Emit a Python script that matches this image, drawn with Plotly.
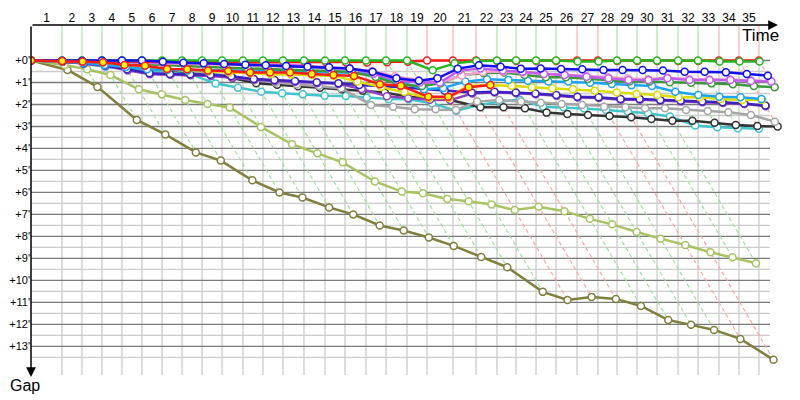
import plotly.graph_objects as go

# ---------------- data (minutes) ----------------
lap_numbers = list(range(1, 36))
# leader's cumulative race time at the end of each lap (lap 0..35), minutes
leader_time = [0.00, 2.40, 3.95, 5.50, 7.05, 8.60, 10.16, 11.71, 13.26, 14.81, 16.43,
               17.98, 19.53, 21.16, 22.79, 24.34, 25.97, 27.52, 29.15, 30.70, 32.71,
               34.50, 36.12, 37.60, 39.15, 40.70, 42.33, 43.95, 45.43, 46.98, 48.53,
               50.16, 51.71, 53.33, 54.88, 56.43]

# gap to leader (minutes) at the end of each lap, starting with lap 0
gap_green = [0]*19 + [0.44, 0.13, 0.02, 0, 0, 0, 0, 0.05, 0.05, 0, 0, 0, 0, 0, 0.05, 0.05, 0.05]
gap_red = [0, 0.03, 0.04, 0.05, 0.05, 0.06, 0.06, 0.07, 0.07, 0.08, 0.08, 0.08, 0.08, 0.08,
           0.09, 0.09, 0.09, 0.08, 0.06, 0, 0, 0, 0.02, 0.02, 0.02, 0.02, 0, 0, 0.02, 0.02,
           0.02, 0.02, 0.02, 0, 0, 0]
gap_red_yellow = [0, 0.02, 0.05, 0.08, 0.2, 0.24, 0.39, 0.4, 0.46, 0.48, 0.55, 0.55, 0.55,
                  0.61, 0.66, 0.7, 1.08, 1.15, 1.65, 1.65, 1.22, 1.11]
gap_blue = [0, 0.01, 0.01, 0, 0, 0, 0.06, 0.1, 0.13, 0.16, 0.19, 0.22, 0.25, 0.28, 0.31,
            0.36, 0.51, 0.81, 0.92, 0.81, 0.37, 0.22, 0.28, 0.37, 0.36, 0.39, 0.40, 0.43,
            0.43, 0.43, 0.46, 0.51, 0.51, 0.54, 0.61, 0.69]
gap_magenta = [0, 0.02, 0.03, 0.04, 0.05, 0.07, 0.09, 0.11, 0.13, 0.14, 0.16, 0.2, 0.2,
               0.24, 0.33, 0.35, 0.6, 0.9, 1.0, 1.0, 0.46, 0.36, 0.46, 0.51, 0.61, 0.66,
               0.74, 0.81, 0.89, 0.89, 0.81, 0.89, 0.89, 0.89, 0.93, 0.96]
gap_pink = [0, 0.02, 0.04, 0.06, 0.08, 0.1, 0.12, 0.14, 0.16, 0.18, 0.2, 0.24, 0.27, 0.3,
            0.33, 0.38, 0.48, 0.72, 0.9, 1.0, 0.68, 0.52, 0.5, 0.55, 0.58, 0.62, 0.68,
            0.75, 0.82, 0.85, 0.78, 0.84, 0.85, 0.86, 0.9, 0.93]
gap_dark_green = [0, 0.02, 0.05, 0.08, 0.12, 0.15, 0.2, 0.25, 0.3, 0.33, 0.36, 0.4, 0.42,
                  0.45, 0.48, 0.52, 0.75, 1.1, 1.16, 1.04, 0.66, 0.58, 0.55, 0.66, 0.76,
                  0.76, 0.84, 0.89, 0.96, 0.96, 0.99, 1.01, 1.04, 1.08, 1.16, 1.22]
gap_sky = [0, 0.03, 0.1, 0.2, 0.3, 0.4, 0.42, 0.44, 0.45, 0.46, 0.47, 0.48, 0.5, 0.52,
           0.54, 0.56, 0.65, 0.95, 1.31, 1.25, 0.96, 0.85, 0.89, 0.92, 0.96, 0.96, 1.01,
           1.07, 1.12, 1.16, 1.42, 1.57, 1.65, 1.67, 1.75]
gap_yellow = [0, 0.03, 0.08, 0.15, 0.25, 0.32, 0.4, 0.45, 0.5, 0.55, 0.58, 0.62, 0.64,
              0.66, 0.7, 0.96, 1.2, 1.42, 1.7, 1.7, 1.15, 1.12, 1.15, 1.22, 1.26, 1.31,
              1.37, 1.46, 1.52, 1.57, 1.67, 1.67, 1.75, 1.8, 1.8]
gap_indigo = [0, 0.05, 0.12, 0.22, 0.4, 0.58, 0.61, 0.63, 0.65, 0.72, 0.84, 0.89, 0.93,
              0.99, 1.04, 1.11, 1.16, 1.22, 1.3, 1.37, 1.45, 1.42, 1.46, 1.5, 1.57, 1.65,
              1.67, 1.75, 1.75, 1.8, 1.83, 1.87, 1.9, 1.95, 2.05]
gap_purple = [0, 0.05, 0.14, 0.25, 0.45, 0.62, 0.65, 0.67, 0.7, 0.78, 0.88, 0.93, 0.97,
              1.03, 1.06, 1.3, 1.62, 1.72, 1.78, 1.8, 1.5, 1.45, 1.49, 1.53, 1.6, 1.68,
              1.7, 1.78, 1.78, 1.83, 1.86, 1.9, 1.93, 1.98, 2.08]
gap_gray = [0, 0.04, 0.1, 0.16, 0.24, 0.32, 0.4, 0.48, 0.58, 0.72, 0.9, 1.0, 1.08, 1.15,
            1.26, 2.02, 2.1, 2.22, 2.22, 2.25, 1.87, 1.8, 1.87, 1.92, 1.98, 2.02, 2.1,
            2.13, 2.17, 2.17, 2.25, 2.3, 2.35, 2.48, 2.78]
gap_black = [0, 0.05, 0.1, 0.16, 0.25, 0.35, 0.42, 0.5, 0.62, 0.8, 1.03, 1.1, 1.17, 1.24,
             1.31, 1.37, 1.45, 1.65, 1.72, 1.8, 2.13, 2.13, 2.17, 2.37, 2.43, 2.48, 2.52,
             2.58, 2.66, 2.74, 2.74, 2.83, 2.93, 2.98, 3.0]
gap_cyan = [0, 0.05, 0.15, 0.28, 0.36, 0.45, 0.52, 0.61, 1.05, 1.24, 1.42, 1.49, 1.54,
            1.6, 1.61, 1.69, 1.75, 1.76, 1.95, 2.28, 2.02, 1.87, 1.78, 2.1, 2.13, 2.18,
            2.25, 2.33, 2.4, 2.55, 2.96, 3.04, 3.08, 3.1]
gap_olive = [0, 0.43, 1.2, 2.7, 3.36, 4.18, 4.55, 5.45, 6.0, 6.23, 6.68, 7.0, 7.5, 7.73,
             8.05, 8.43, 8.93, 9.4, 10.52, 10.89, 10.75, 10.84, 11.16, 11.8, 12.02, 12.25,
             12.66, 13.61]
gap_light_olive = [0, 0.2, 0.4, 0.66, 1.31, 1.54, 1.8, 1.98, 2.14, 3.02, 3.81, 4.22, 4.63,
                   5.5, 5.96, 6.04, 6.3, 6.4, 6.55, 6.8, 6.65, 6.85, 7.2, 7.45, 7.8, 8.1,
                   8.39, 8.72, 8.95, 9.22]

gap_ticks = list(range(0, 14))
gap_tick_text = ["+%d'" % v for v in gap_ticks]

# ---------------- styling ----------------
series = [  # drawing order, bottom to top
    (gap_olive, "#807f3e", "white"),
    (gap_light_olive, "#a8c462", "white"),
    (gap_cyan, "#3ec6cc", "white"),
    (gap_black, "#333333", "white"),
    (gap_gray, "#a6a6a6", "white"),
    (gap_purple, "#9040c0", "white"),
    (gap_indigo, "#3c22c0", "white"),
    (gap_yellow, "#dcdc00", "white"),
    (gap_sky, "#1aa6f5", "white"),
    (gap_dark_green, "#3a9a3a", "white"),
    (gap_pink, "#f5a0c8", "white"),
    (gap_magenta, "#c45cf2", "white"),
    (gap_red, "#ff1a1a", "white"),
    (gap_green, "#22b822", "white"),
    (gap_blue, "#1010f0", "white"),
    (gap_red_yellow, "#ff1a1a", "#ffff00"),
]

G_TOP = -1.614
G_BOT = 14.3
X_MAX = 58.45
X_GRID_END = 57.29
X_ARROW = 57.9

fig = go.Figure()

def add_lines(segs, color, width=1.0, dash=None):
    xs, ys = [], []
    for (x0, y0, x1, y1) in segs:
        xs += [x0, x1, None]
        ys += [y0, y1, None]
    fig.add_trace(go.Scatter(x=xs, y=ys, mode="lines", hoverinfo="skip",
                             line=dict(color=color, width=width, dash=dash),
                             showlegend=False))

# light half-minute grid
add_lines([(0, g + 0.5, X_GRID_END, g + 0.5) for g in gap_ticks], "#cbcbcb", 1.3)
# vertical lap grid (below the zero line)
add_lines([(leader_time[k], 0, leader_time[k], G_BOT) for k in lap_numbers], "#cbcbcb", 1.3)
# dark minute grid
add_lines([(0, g, X_GRID_END, g) for g in gap_ticks], "#7a7a7a", 1.3)

# lap leader (red car ahead of green car?)
lap_leader_red = [gap_red[k] < gap_green[k] for k in lap_numbers]

# colored verticals above zero + dashed "lap" diagonals
for is_red, col_v, col_d in [(False, "#a8e6a8", "#9fe09f"), (True, "#ffb0b0", "#ffa3a3")]:
    ks = [k for k, r in zip(lap_numbers, lap_leader_red) if r == is_red]
    add_lines([(leader_time[k], G_TOP, leader_time[k], 0) for k in ks], col_v, 1.2)
    diag = []
    for k in ks:
        gmax = max(s[0][k] for s in series if len(s[0]) > k)
        diag.append((leader_time[k], 0, leader_time[k] + gmax, gmax))
    add_lines(diag, col_d, 1.2, "4px,3px")

# driver traces: x = leader time at that lap + gap (actual crossing time)
for gaps, color, fill in series:
    xs = [leader_time[k] + g for k, g in enumerate(gaps)]
    fig.add_trace(go.Scatter(
        x=xs, y=gaps, mode="lines+markers", showlegend=False,
        line=dict(color=color, width=2.5),
        marker=dict(size=7, color=fill, line=dict(color=color, width=1.5)),
    ))

mid = [(leader_time[k - 1] + leader_time[k]) / 2 for k in lap_numbers]

# the page body adds an 8px offset, so margins are reduced accordingly
fig.update_layout(
    width=800, height=400,
    margin=dict(l=23, r=23, t=17, b=33),
    paper_bgcolor="white", plot_bgcolor="white",
    font=dict(family="Liberation Sans, Arial, sans-serif", color="black"),
    xaxis=dict(range=[0, X_MAX], side="top", tickmode="array", tickvals=mid,
               ticktext=[str(k) for k in lap_numbers], tickangle=0, automargin=False,
               showgrid=False, zeroline=False, showline=False, ticks="",
               tickfont=dict(size=12)),
    yaxis=dict(range=[G_BOT, G_TOP], tickmode="array", tickvals=gap_ticks,
               ticktext=gap_tick_text, showgrid=False, zeroline=False, automargin=False,
               showline=False, ticks="", tickfont=dict(size=11)),
)

# axis arrows
fig.add_annotation(x=X_ARROW, y=G_TOP, ax=0, ay=G_TOP, axref="x", ayref="y",
                   xref="x", yref="y", text="", showarrow=True, arrowhead=2,
                   arrowsize=1.3, arrowwidth=1.5, arrowcolor="black")
fig.add_annotation(x=0, y=14.39, ax=0, ay=G_TOP, axref="x", ayref="y",
                   xref="x", yref="y", text="", showarrow=True, arrowhead=2,
                   arrowsize=1.3, arrowwidth=1.5, arrowcolor="black")
fig.add_annotation(x=0.967, y=0.971, xref="paper", yref="paper", text="Time",
                   showarrow=False, font=dict(size=17), xanchor="center", yanchor="middle")
fig.add_annotation(x=-0.008, y=-0.031, xref="paper", yref="paper", text="Gap",
                   showarrow=False, font=dict(size=16), xanchor="center", yanchor="middle")

fig.write_html("out.html")
